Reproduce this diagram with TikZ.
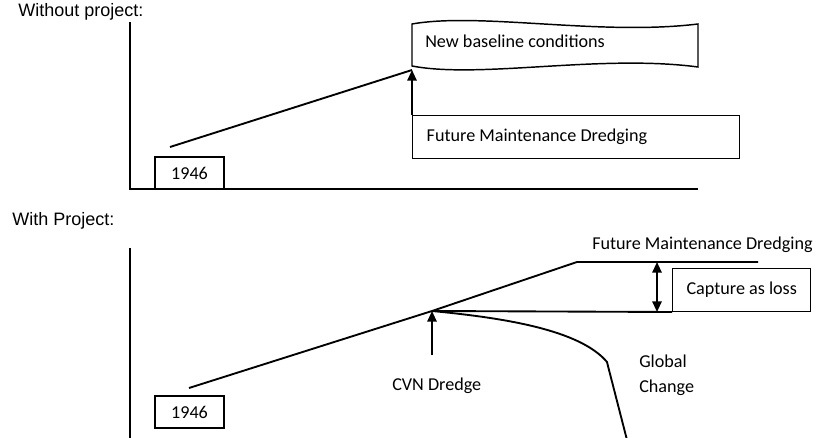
\documentclass[tikz,border=0pt]{standalone}
\usepackage{fontspec}
\setmainfont{Liberation Sans}
\newfontfamily\boxfont{Carlito}
\usetikzlibrary{arrows.meta}
\tikzset{
  x=0.75pt, y=-0.75pt,
  axis/.style={line width=1.5pt},
  curve/.style={line width=1.4pt, line join=round},
  tip/.style={-{Triangle[width=7pt,length=8pt]}},
  twotip/.style={{Triangle[width=7pt,length=8pt]}-{Triangle[width=7pt,length=8pt]}},
  panel/.style={font=\fontsize{13.5}{15}\selectfont, inner sep=0pt, anchor=base west},
  label/.style={font=\boxfont\fontsize{13.6}{16}\selectfont, inner sep=0pt},
  framed/.style={draw, line width=1.1pt, label, inner sep=0pt},
}
\begin{document}
\begin{tikzpicture}
\useasboundingbox (0,0) rectangle (831,438);

% ---------- Without project ----------
\node[panel] (title1) at (18,17) {Without project:};
\coordinate (ax1top) at (130,22);
\coordinate (ax1org) at (130,189);
\coordinate (ax1end) at (698,189);
\draw[axis] (ax1top) -- (ax1org) -- (ax1end);

\node[framed, minimum width=69*0.75pt, minimum height=32*0.75pt] (y1946a) at (189.5,173) {1946};

% wavy "new baseline" banner
\draw[line width=1.1pt] (412,24) .. controls (480,12) and (600,36) .. (698,24)
  -- (698,67) .. controls (600,54) and (480,79) .. (412,66) -- cycle;
\node[label, anchor=base west] (nbc) at (425,48) {New baseline conditions};

% maintenance dredging box, text set flush left inside
\node[framed, minimum width=327*0.75pt, minimum height=43*0.75pt, anchor=north west,
      inner xsep=14*0.75pt, text width=299*0.75pt, align=flush left] (fmd1) at (412,115)
      {Future Maintenance Dredging};

\coordinate (start1) at (170,147);
\coordinate (peak1) at (412,70);
\draw[curve] (start1) -- (peak1);
\draw[curve, tip] (fmd1.north west) -- (peak1);

% ---------- With project ----------
\node[panel] (title2) at (12,226) {With Project:};
\coordinate (ax2top) at (130,248);
\coordinate (ax2bot) at (130,440);
\draw[axis] (ax2top) -- (ax2bot);

\node[framed, minimum width=69*0.75pt, minimum height=32*0.75pt] (y1946b) at (189.5,412) {1946};

\coordinate (start2) at (189,388);
\coordinate (cvn) at (432,311);
\coordinate (knee) at (577,262);
\coordinate (fmdend) at (758,262);
\draw[curve] (start2) -- (cvn) -- (knee) -- (fmdend);

\node[framed, minimum width=138*0.75pt, minimum height=43*0.75pt, anchor=south west] (loss) at (672,312) {Capture as loss};
\draw[curve] (cvn) -- (loss.south west);

\coordinate (dtop) at (657,262);
\coordinate (dbot) at (657,312);
\draw[curve, twotip] (dtop) -- (dbot);

\node[label, anchor=base west] (fmd2) at (592,249) {Future Maintenance Dredging};

\node[label, anchor=base west] (cvnlab) at (392,390) {CVN Dredge};
\coordinate (cvnfoot) at (432,355);
\draw[curve, tip] (cvnfoot) -- (cvn);

% global change decline
\coordinate (gcend) at (627,440);
\draw[curve] (cvn) .. controls (505,318) and (580,330) .. (607,362)
  -- (609,370) -- (gcend);
\node[label, anchor=base west] (glob) at (639,367) {Global};
\node[label, anchor=base west] (chg) at (639,392) {Change};
\end{tikzpicture}
\end{document}
